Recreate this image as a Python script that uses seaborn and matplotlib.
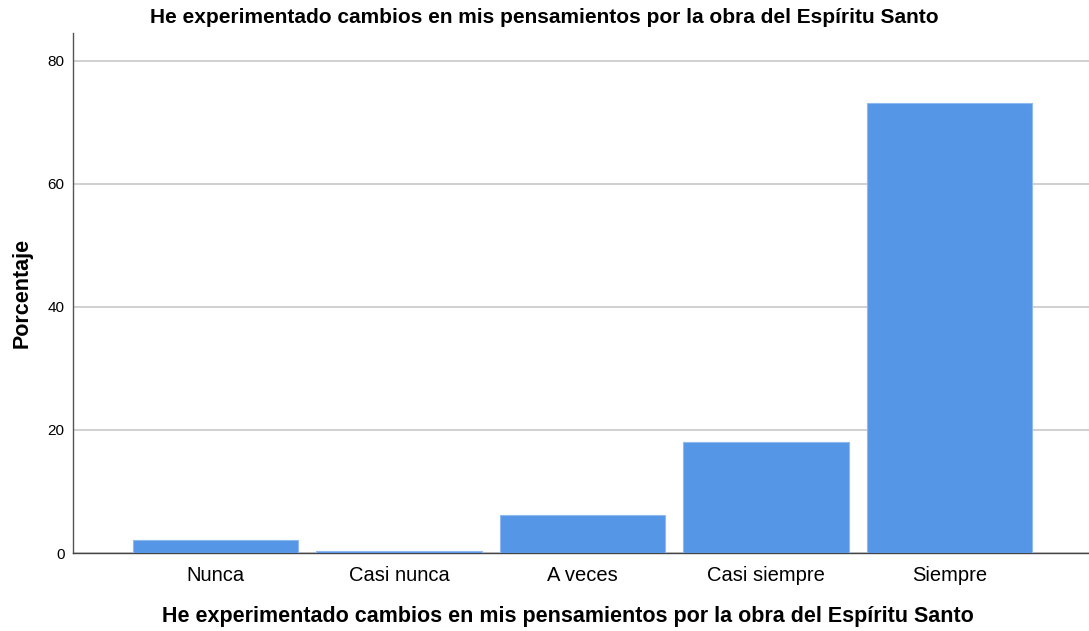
import matplotlib
matplotlib.use("Agg")
import matplotlib.pyplot as plt
import seaborn as sns
import pandas as pd

# Datos
categorias = ["Nunca", "Casi nunca", "A veces", "Casi siempre", "Siempre"]
porcentajes = [2.1, 0.4, 6.2, 18.1, 73.2]
titulo = "He experimentado cambios en mis pensamientos por la obra del Espíritu Santo"

df = pd.DataFrame({"Categoria": categorias, "Porcentaje": porcentajes})

sns.set_theme(style="white")
plt.rcParams["font.family"] = ["Liberation Sans", "DejaVu Sans"]

fig = plt.figure(figsize=(10.89, 6.31), dpi=100)
ax = fig.add_axes([0.067, 0.1236, 0.933, 0.824])

sns.barplot(data=df, x="Categoria", y="Porcentaje", order=categorias,
            color="#5596E6", saturation=1, width=0.9,
            edgecolor="#8fbaf0", linewidth=0.8, ax=ax, zorder=3)

ax.set_xlim(-0.777, 4.76)
ax.set_ylim(0, 84.5)
ax.set_yticks([0, 20, 40, 60, 80])
ax.yaxis.grid(True, color="#c8c8c8", linewidth=1.2, zorder=0)
ax.set_axisbelow(True)

for s in ["top", "right"]:
    ax.spines[s].set_visible(False)
ax.spines["left"].set_color("#555555")
ax.spines["bottom"].set_color("#444444")
ax.spines["left"].set_linewidth(1.0)
ax.spines["bottom"].set_linewidth(1.0)

ax.tick_params(axis="y", labelsize=11, length=0, pad=6, colors="black")
ax.tick_params(axis="x", labelsize=14.5, length=0, pad=9, colors="black")

ax.set_xlabel(titulo, fontsize=15.5, fontweight="bold", color="black")
ax.xaxis.set_label_coords(0.487, -0.101)
ax.set_ylabel("Porcentaje", fontsize=15.5, fontweight="bold", labelpad=11, color="black")
fig.suptitle(titulo, x=0.5, y=0.987, fontsize=15, fontweight="bold", color="black")

fig.savefig("out.png", dpi=100)
